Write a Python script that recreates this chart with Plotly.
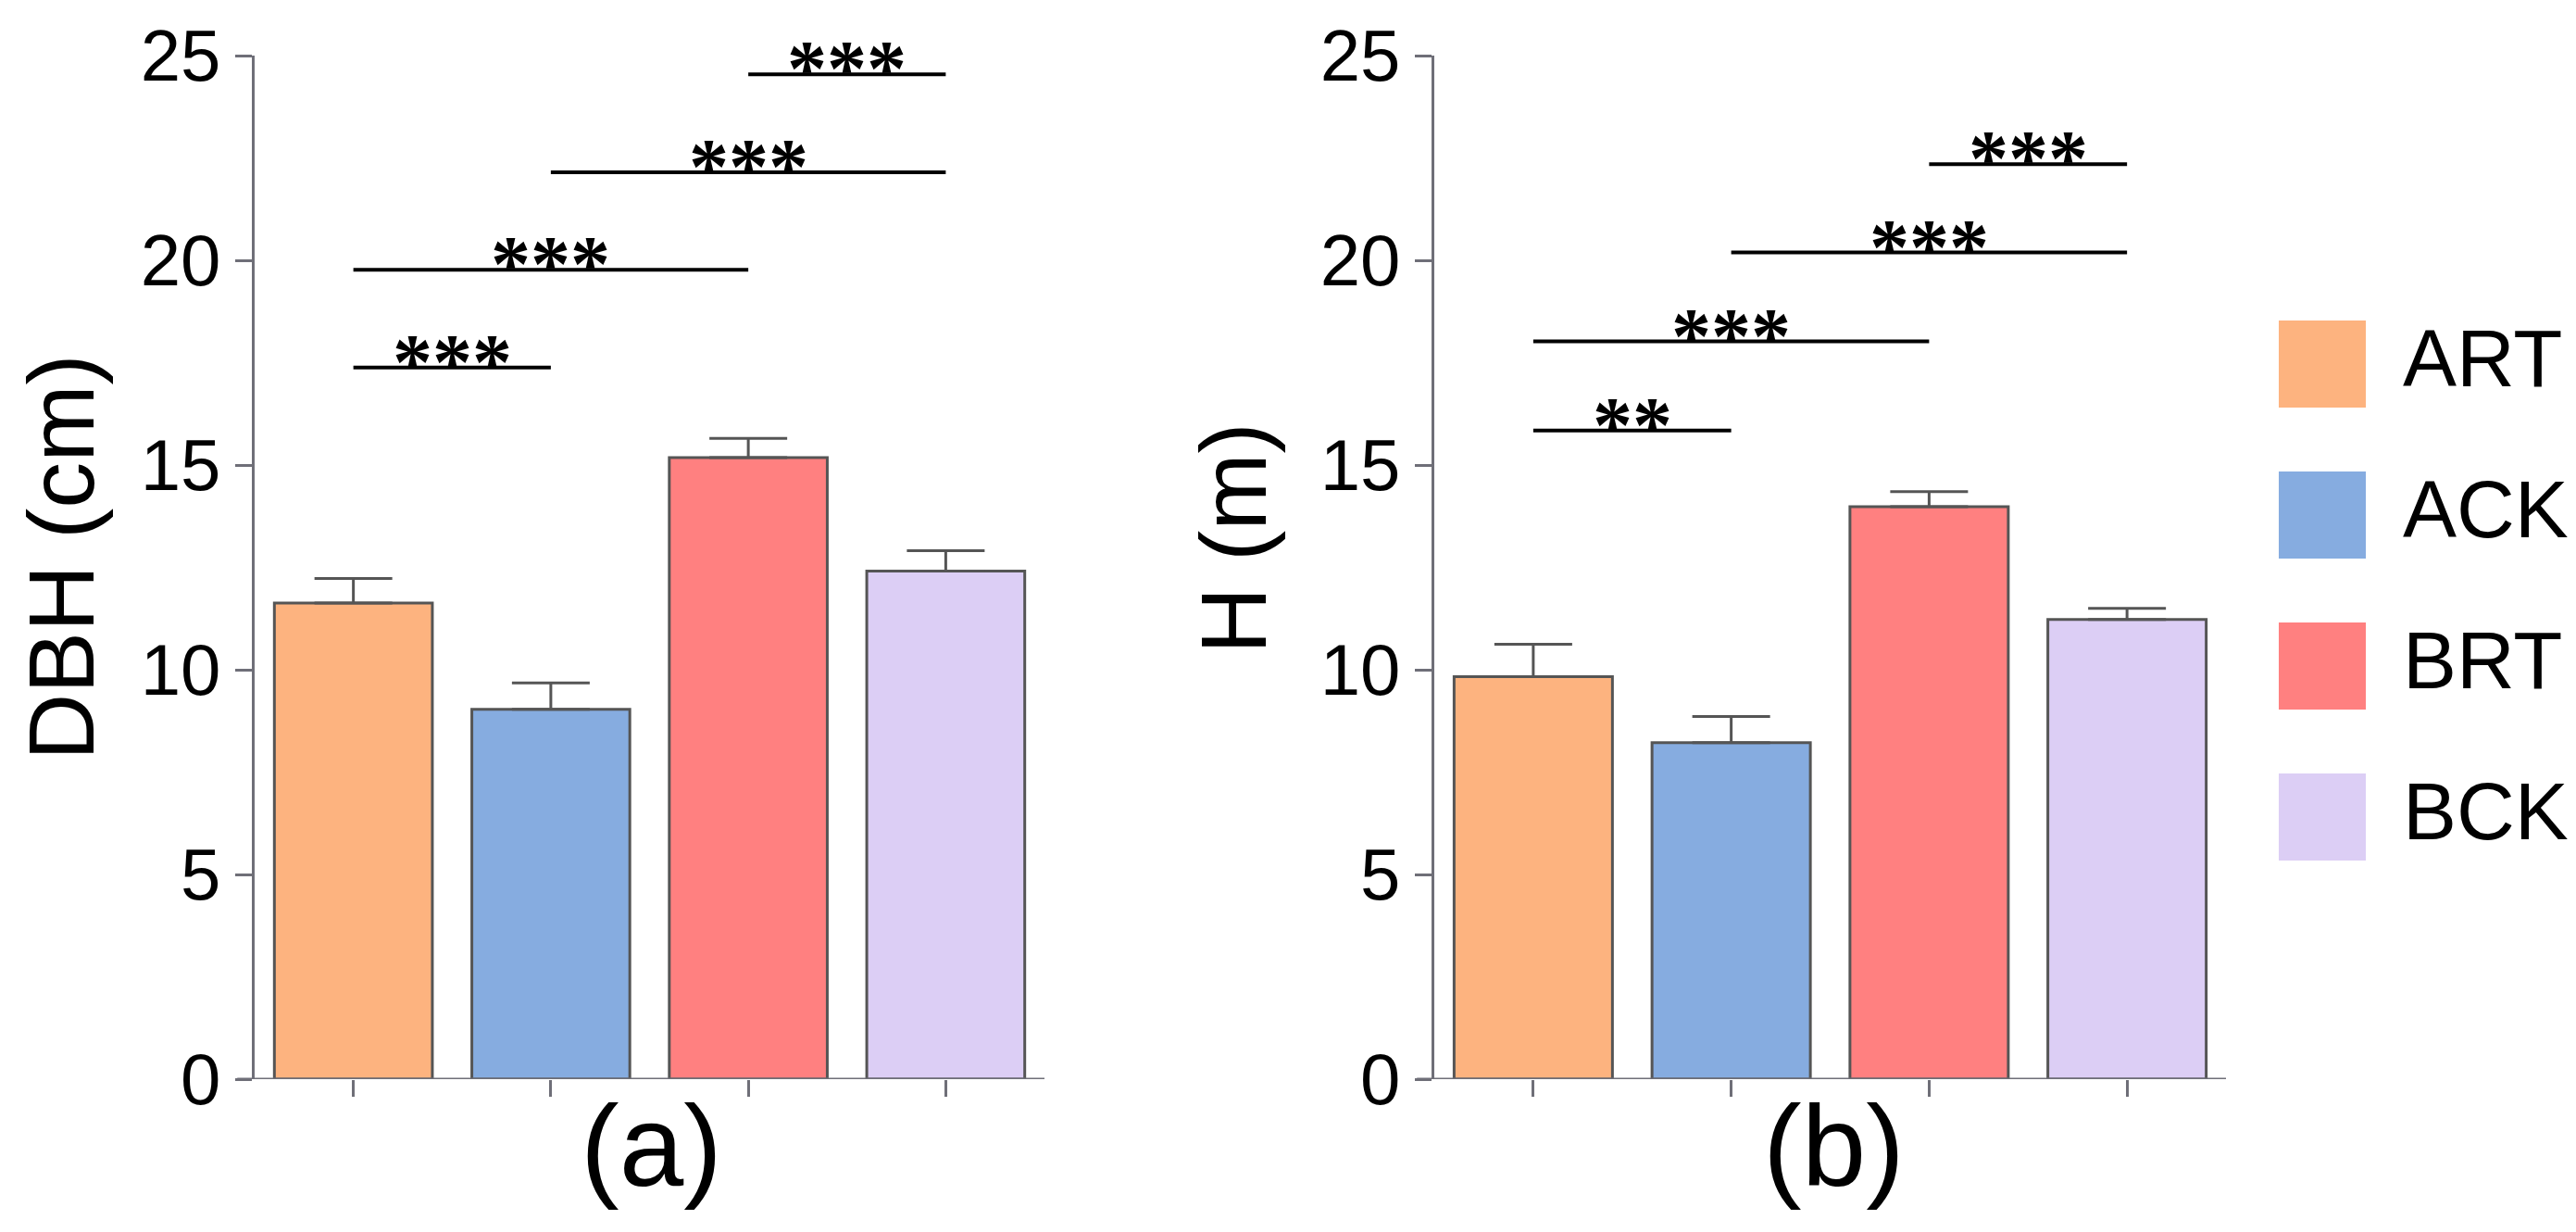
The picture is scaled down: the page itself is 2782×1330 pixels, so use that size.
####################################################################################################################
# plot.py
#
# DBH and H bar charts with significance brackets, (a) and (b) panels

####################################################################################################################
# IMPORTS
import plotly.graph_objects as go

####################################################################################################################
# DATA

groups = ['ART', 'ACK', 'BRT', 'BCK']
colors = ['#FDB37F', '#86ACE0', '#FF8080', '#DCCEF5']

# panel (a) - DBH (cm), mean and SEM
dbh_mean = [11.63, 9.03, 15.18, 12.41]
dbh_sem = [0.60, 0.65, 0.47, 0.50]

# panel (b) - H (m), mean and SEM
h_mean = [9.83, 8.22, 13.98, 11.23]
h_sem = [0.79, 0.64, 0.37, 0.27]

# significance brackets: (group i, group j), bracket height, label
dbh_pairs = [(0, 1), (0, 2), (1, 3), (2, 3)]
dbh_sig_y = [17.38, 19.77, 22.15, 24.54]
dbh_sig = ['***', '***', '***', '***']

h_pairs = [(0, 1), (0, 2), (1, 3), (2, 3)]
h_sig_y = [15.84, 18.02, 20.19, 22.35]
h_sig = ['**', '***', '***', '***']

y_ticks = [0, 5, 10, 15, 20, 25]

####################################################################################################################
# LAYOUT HELPERS

W, H = 2782, 1330
AXIS_GREY = '#6f6f78'
EDGE = '#555555'
FONT = 'Liberation Sans, Arial, sans-serif'


def px_x(x):
    return x / W


def px_y(y):
    return (H - y) / H


def add_panel(fig, col, means, sems, pairs, sig_y, sig, ytitle, ytitle_left, ytitle_y, label, label_x):
    xa = 'x' if col == 1 else 'x2'
    ya = 'y' if col == 1 else 'y2'
    fig.add_trace(go.Bar(x=list(range(len(groups))), y=means,
                         marker=dict(color=colors, line=dict(color=EDGE, width=3)),
                         width=0.8,
                         error_y=dict(type='data', symmetric=False, array=sems,
                                      arrayminus=[0] * len(sems),
                                      width=42, thickness=3, color=EDGE),
                         xaxis=xa, yaxis=ya, showlegend=False))

    # baseline, runs a little left of the y axis like the original
    fig.add_shape(type='line', xref=xa + ' domain', yref=ya, x0=-0.022, x1=1, y0=0, y1=0,
                  line=dict(color=AXIS_GREY, width=3))

    # significance brackets
    for (i, j), yy, s in zip(pairs, sig_y, sig):
        fig.add_shape(type='line', xref=xa, yref=ya, x0=i, x1=j, y0=yy, y1=yy,
                      line=dict(color='black', width=4))
        fig.add_annotation(x=(i + j) / 2, y=yy, xref=xa, yref=ya, text='<b>' + s + '</b>',
                           showarrow=False, yanchor='bottom', yshift=-44,
                           font=dict(family='Liberation Serif', size=86, color='black'))

    # y title (box anchored on its left edge so it stays inside the page) and panel label
    fig.add_annotation(x=px_x(ytitle_left), y=px_y(ytitle_y), xref='paper', yref='paper',
                       text=ytitle, textangle=-90, showarrow=False,
                       xanchor='left', yanchor='middle',
                       font=dict(family=FONT, size=100, color='black'))
    fig.add_annotation(x=px_x(label_x), y=px_y(1228), xref='paper', yref='paper',
                       text=label, showarrow=False, xanchor='center', yanchor='middle',
                       font=dict(family=FONT, size=125, color='black'))


####################################################################################################################
# SCRIPT

fig = go.Figure()

add_panel(fig, 1, dbh_mean, dbh_sem, dbh_pairs, dbh_sig_y, dbh_sig, 'DBH (cm)', 0, 594, '(a)', 696)
add_panel(fig, 2, h_mean, h_sem, h_pairs, h_sig_y, h_sig, 'H (m)', 1266, 573, '(b)', 1972)

# hand-drawn legend
for k, (name, c) in enumerate(zip(groups, colors)):
    top = 338 + k * 163
    fig.add_shape(type='rect', xref='paper', yref='paper',
                  x0=px_x(2453), x1=px_x(2547), y0=px_y(top + 94), y1=px_y(top),
                  fillcolor=c, line=dict(width=0))
    fig.add_annotation(x=px_x(2585), y=px_y(top + 40), xref='paper', yref='paper',
                       text=name, showarrow=False, xanchor='left', yanchor='middle',
                       font=dict(family=FONT, size=87, color='black'))

x_common = dict(range=[-0.5, 3.5], tickvals=[0, 1, 2, 3], showticklabels=False,
                ticks='outside', ticklen=18, tickwidth=3, tickcolor=AXIS_GREY,
                showline=False, showgrid=False, zeroline=False, automargin=False)
y_common = dict(range=[0, 25], tickvals=y_ticks, ticks='outside', ticklen=18, tickwidth=3,
                tickcolor=AXIS_GREY, showline=True, linewidth=3, linecolor=AXIS_GREY,
                showgrid=False, zeroline=False, automargin=False,
                tickfont=dict(family=FONT, size=78, color='black'),
                domain=[px_y(1157), px_y(52)])

fig.update_layout(
    width=W, height=H,
    margin=dict(l=0, r=0, t=0, b=0),
    paper_bgcolor='white', plot_bgcolor='white',
    xaxis=dict(domain=[px_x(267), px_x(1120)], **x_common),
    xaxis2=dict(domain=[px_x(1541), px_x(2396)], anchor='y2', **x_common),
    yaxis=dict(anchor='x', **y_common),
    yaxis2=dict(anchor='x2', **y_common),
    bargap=0.2,
)

fig.write_html("out.html")
